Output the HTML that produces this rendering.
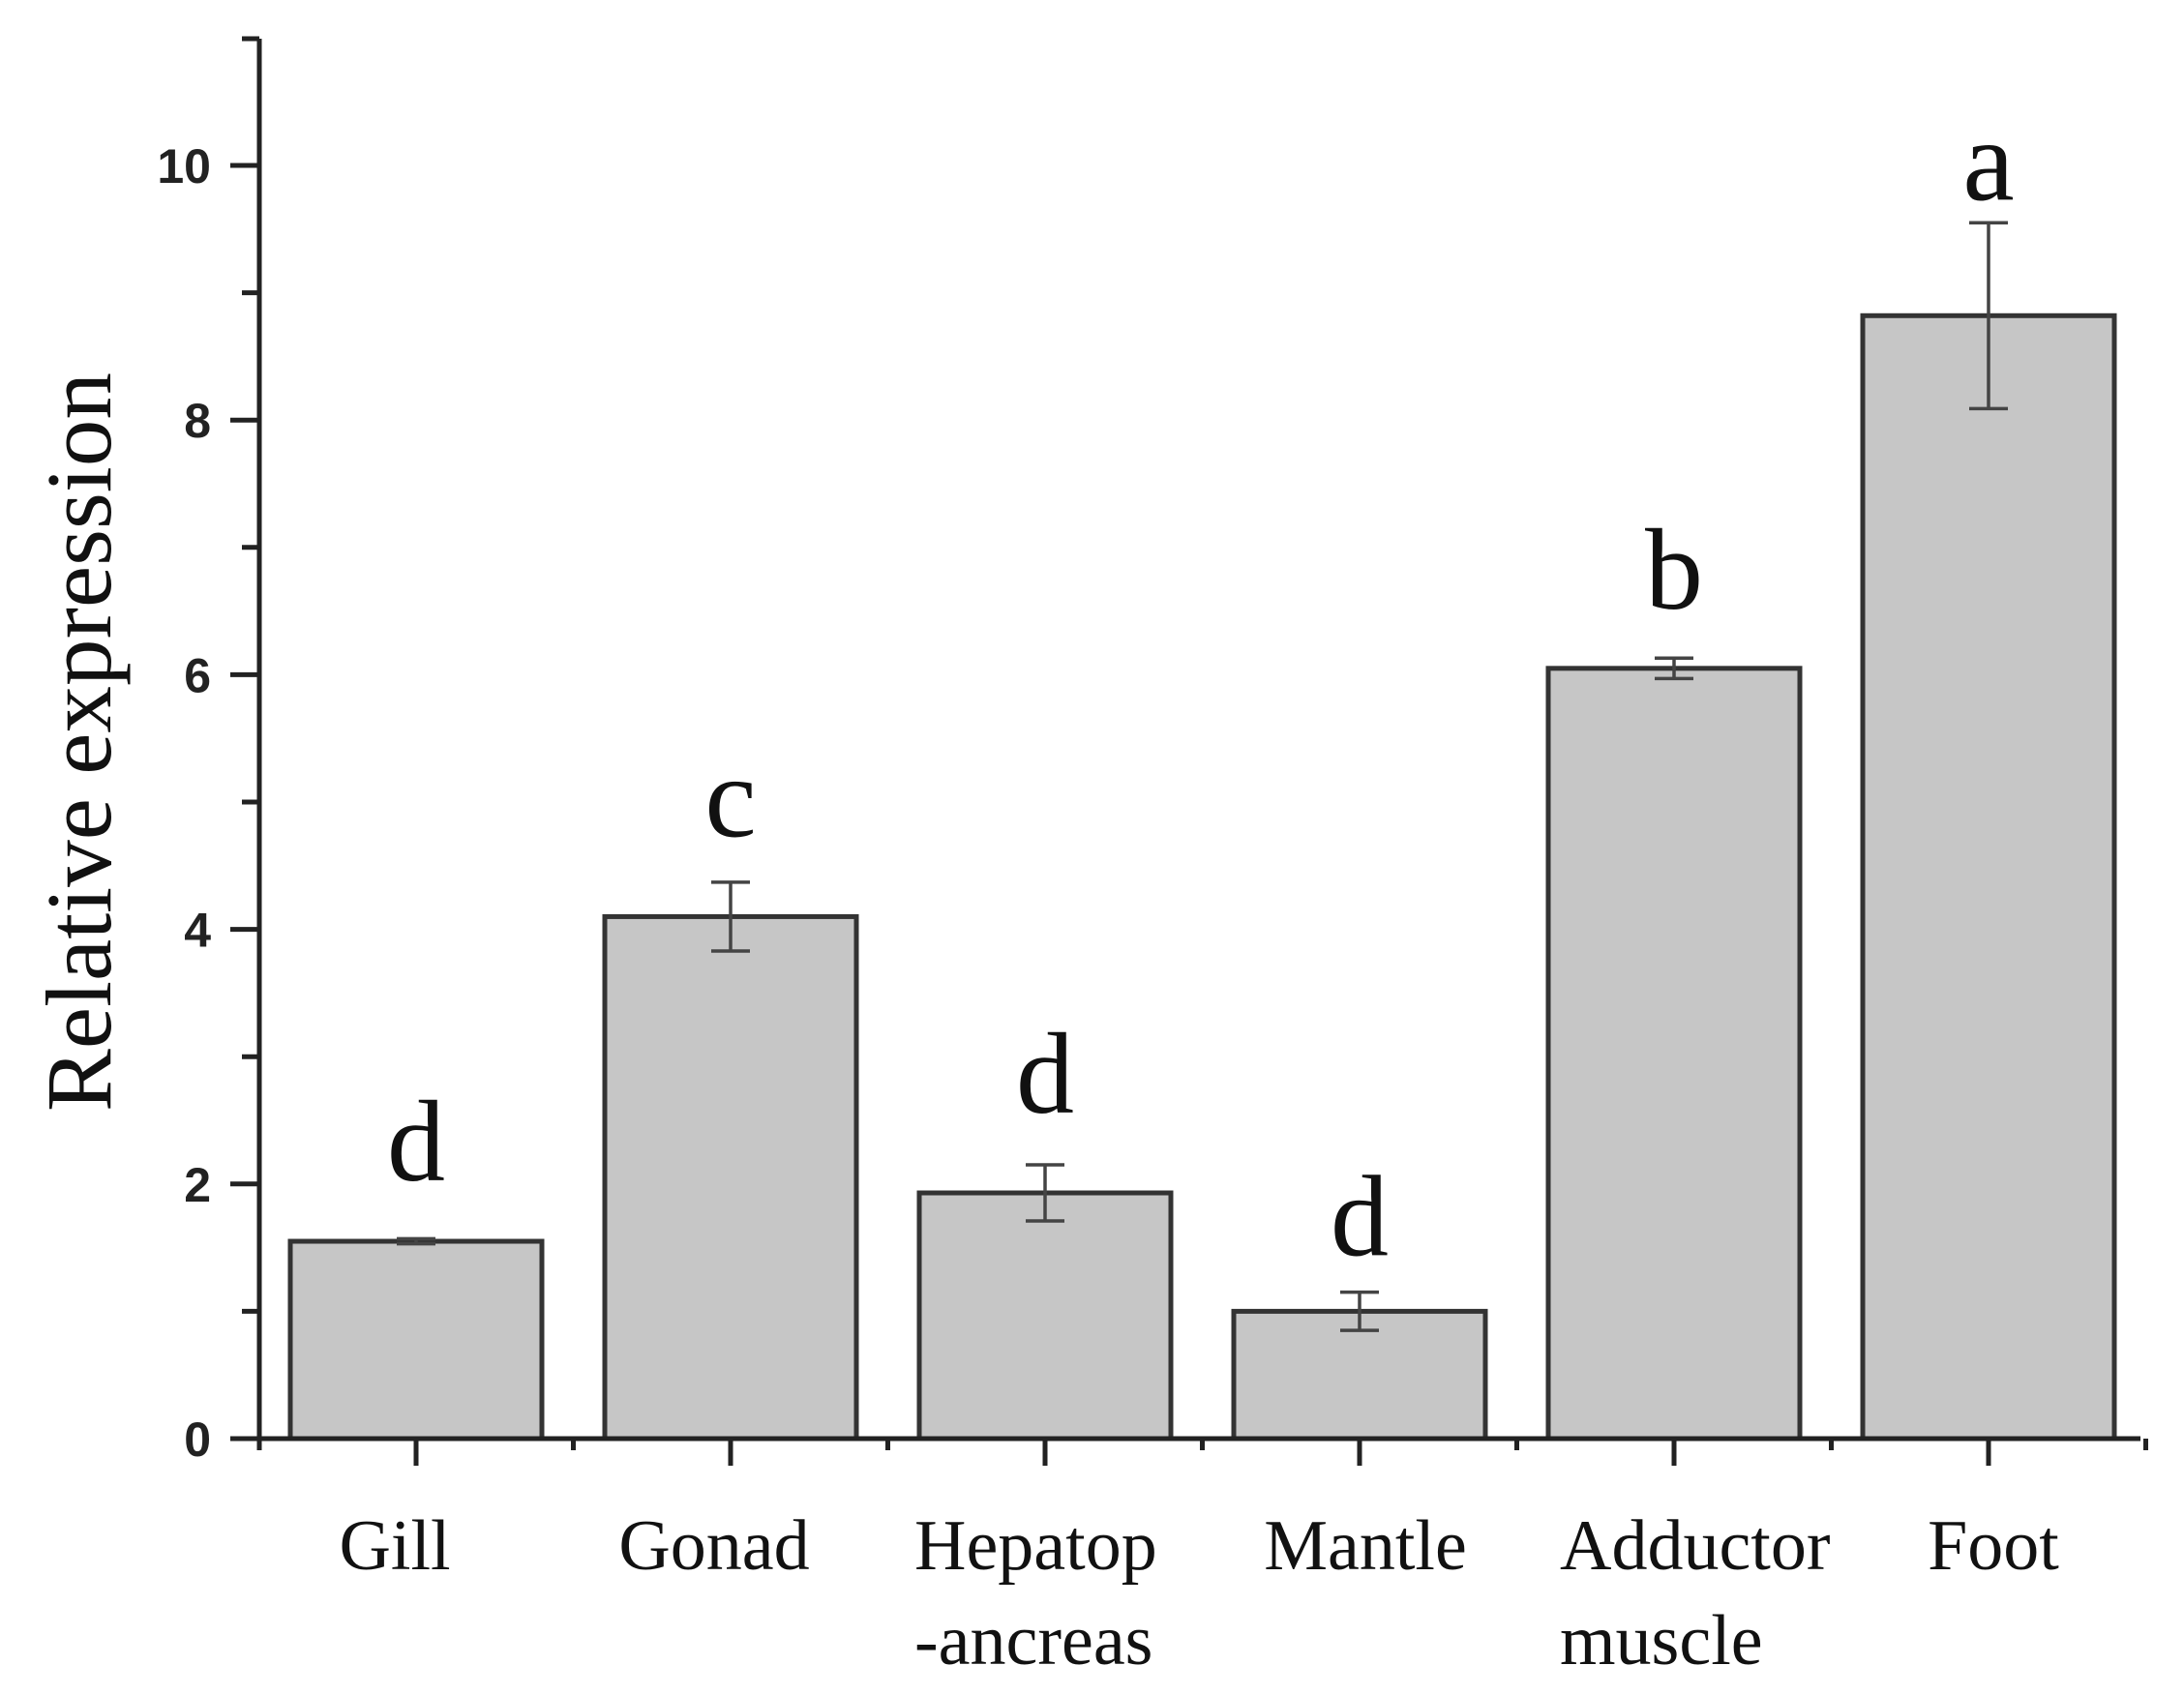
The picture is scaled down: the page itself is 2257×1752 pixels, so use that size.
<!DOCTYPE html>
<html><head><meta charset="utf-8"><style>
html,body{margin:0;padding:0;background:#fff;}
svg{display:block;}
</style></head><body>
<svg id="chart" width="2257" height="1752" viewBox="0 0 2257 1752" xmlns="http://www.w3.org/2000/svg">
<g id="plot"></g>
</svg>
<script>
const categories = ["Gill","Gonad","Hepatop|-ancreas","Mantle","Adductor|muscle","Foot"];
const values = [1.55, 4.10, 1.93, 1.00, 6.05, 8.82];
const errors = [0.02, 0.27, 0.22, 0.15, 0.08, 0.73];
const letters = ["d","c","d","d","b","a"];
const letterPos = [2.03, 4.73, 2.56, 1.44, 6.52, 9.73];
const yTicks = [0,2,4,6,8,10];
const yMinor = [1,3,5,7,9];

const NS="http://www.w3.org/2000/svg";
const g=document.getElementById('plot');
const x0=268, x1=2212, yBase=1487, yPerUnit=131.6, yTopAxis=40;
const step=325, firstC=430;
function yS(v){return yBase - v*yPerUnit;}
function xC(i){return firstC + i*step;}
function mk(tag,attrs,parent){const e=document.createElementNS(NS,tag);for(const k in attrs)e.setAttribute(k,attrs[k]);(parent||g).appendChild(e);return e;}

categories.forEach((c,i)=>{
  const w=260, cx=xC(i);
  const r=mk('rect',{x:cx-w/2,y:yS(values[i]),width:w,height:yBase-yS(values[i]),fill:'#c6c6c6',stroke:'#333','stroke-width':5});
  
  
  const eg=mk('g',{stroke:'#444','stroke-width':3.5});
  
  
  const top=yS(values[i]+errors[i]), bot=yS(values[i]-errors[i]);
  mk('line',{x1:cx,x2:cx,y1:top,y2:bot},eg);
  mk('line',{x1:cx-20,x2:cx+20,y1:top,y2:top},eg);
  mk('line',{x1:cx-20,x2:cx+20,y1:bot,y2:bot},eg);
  const t=mk('text',{x:cx,y:yS(letterPos[i]),'text-anchor':'middle','font-family':'"Liberation Serif",serif','font-size':120,fill:'#111'});
  t.textContent=letters[i];
  
  
});

const ax=mk('g',{stroke:'#222','stroke-width':5,fill:'none'});


mk('line',{x1:x0,x2:x0,y1:yTopAxis,y2:yBase+12},ax);
mk('line',{x1:x0-2,x2:x1,y1:yBase,y2:yBase},ax);
mk('line',{x1:x0-18,x2:x0,y1:yTopAxis,y2:yTopAxis},ax);
yTicks.forEach(v=>{
  mk('line',{x1:x0-30,x2:x0,y1:yS(v),y2:yS(v)},ax);
  const t=mk('text',{x:218,y:yS(v)+18,'text-anchor':'end','font-family':'"Liberation Sans",sans-serif','font-size':50,'font-weight':'bold',fill:'#222'});
  t.textContent=v;
  
  
});
yMinor.forEach(v=>{mk('line',{x1:x0-18,x2:x0,y1:yS(v),y2:yS(v)},ax);});
categories.forEach((c,i)=>{
  mk('line',{x1:xC(i),x2:xC(i),y1:yBase,y2:yBase+28},ax);
  mk('line',{x1:xC(i)+step/2,x2:xC(i)+step/2,y1:yBase,y2:yBase+12},ax);
});

const lblX=[408,738,945,1411,1612,2060];
categories.forEach((c,i)=>{
  const parts=c.split('|');
  const two=parts.length>1;
  const t=mk('text',{x:lblX[i],y:1622,'text-anchor':two?'start':'middle','font-family':'"Liberation Serif",serif','font-size':74,fill:'#111'});
  
  
  parts.forEach((p,j)=>{const s=mk('tspan',{x:lblX[i],dy:j?98:0},t);s.textContent=p;});
});

const yt=mk('text',{x:0,y:0,'text-anchor':'middle','font-family':'"Liberation Serif",serif','font-size':96,fill:'#111',transform:'translate(114,767) rotate(-90)',textLength:764,lengthAdjust:'spacingAndGlyphs'});
yt.textContent='Relative expression';


</script>
</body></html>
